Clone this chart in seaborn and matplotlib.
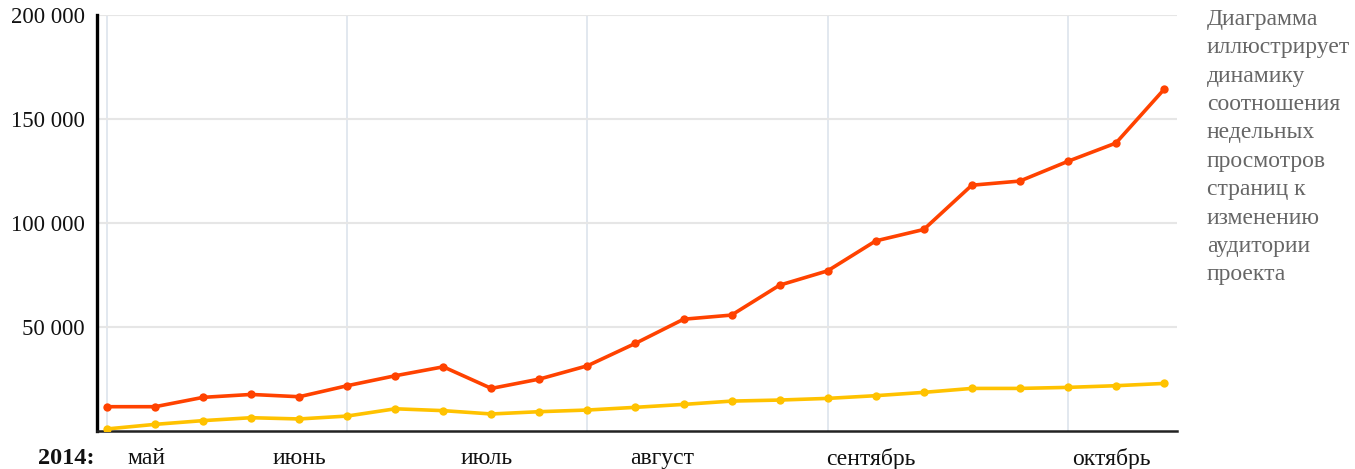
import numpy as np
import pandas as pd
import matplotlib
matplotlib.use("Agg")
import matplotlib.pyplot as plt
import seaborn as sns

# недели (индекс), с мая по октябрь 2014
weeks = list(range(23))
views = [11700, 11700, 16200, 17600, 16500, 21800, 26600, 30900, 20500, 25000,
         31400, 42200, 53800, 55800, 70200, 77100, 91500, 97000, 118300, 120300,
         129800, 138600, 164400]
audience = [1000, 3200, 5000, 6400, 5800, 7200, 10700, 9800, 8200, 9300,
            10100, 11400, 12800, 14400, 14900, 15700, 17000, 18600, 20500, 20500,
            21000, 21800, 22900]

month_labels = ['май', 'июнь', 'июль', 'август', 'сентябрь', 'октябрь']
month_pos = [0.83, 4.0, 7.9, 11.55, 15.9, 20.9]
month_grid = [0, 5, 10, 15, 20]
y_ticks = [50000, 100000, 150000, 200000]

note = ("Диаграмма\nиллюстрирует\nдинамику\nсоотношения\nнедельных\n"
        "просмотров\nстраниц к\nизменению\nаудитории\nпроекта")

df = pd.DataFrame({
    'week': weeks * 2,
    'value': views + audience,
    'series': ['просмотры'] * len(weeks) + ['аудитория'] * len(weeks),
})

sns.set_theme(style="white")
plt.rcParams['font.family'] = ['Liberation Serif', 'DejaVu Serif']

fig = plt.figure(figsize=(13.55, 4.69), dpi=100)
ax = fig.add_axes([0.0716, 0.081, 0.797, 0.886])

sns.lineplot(data=df, x='week', y='value', hue='series',
             palette={'просмотры': '#ff4200', 'аудитория': '#ffc200'},
             marker='o', markersize=6, markeredgewidth=0, linewidth=2.6,
             legend=False, ax=ax, zorder=3)

ax.set_xlim(-0.208, 22.27)
ax.set_ylim(0, 200000)

# вертикальная сетка по месяцам
ax.set_xticks(month_grid)
ax.set_xticklabels([''] * len(month_grid))
ax.tick_params(axis='x', which='major', length=6, width=1.2, color='#cfdbe8', direction='out')
ax.grid(axis='x', which='major', color='#dfe6ee', linewidth=1.3)

ax.set_xticks(month_pos, minor=True)
ax.set_xticklabels(month_labels, minor=True)
ax.tick_params(axis='x', which='minor', length=0, pad=12, labelsize=17, labelcolor='#111111')

ax.set_yticks(y_ticks)
ax.set_yticklabels([f'{v:,}'.replace(',', ' ') for v in y_ticks])
ax.tick_params(axis='y', length=0, pad=9, labelsize=16.5, labelcolor='#111111')
ax.grid(axis='y', color='#e6e6e6', linewidth=1.5)

ax.set_xlabel('')
ax.set_ylabel('')

for s in ['top', 'right']:
    ax.spines[s].set_visible(False)
ax.spines['left'].set_color('#000000')
ax.spines['left'].set_linewidth(2.4)
ax.spines['bottom'].set_color('#222222')
ax.spines['bottom'].set_linewidth(1.8)

fig.text(95 / 1355, 1 - 458 / 469, '2014:', ha='right', va='center',
         fontsize=17.5, fontweight='bold', color='#111111')

fig.text(1207 / 1355, 1 - 9 / 469, note, ha='left', va='top',
         fontsize=17, color='#666666', linespacing=1.46)

plt.savefig('out.png', dpi=100)
plt.close()
